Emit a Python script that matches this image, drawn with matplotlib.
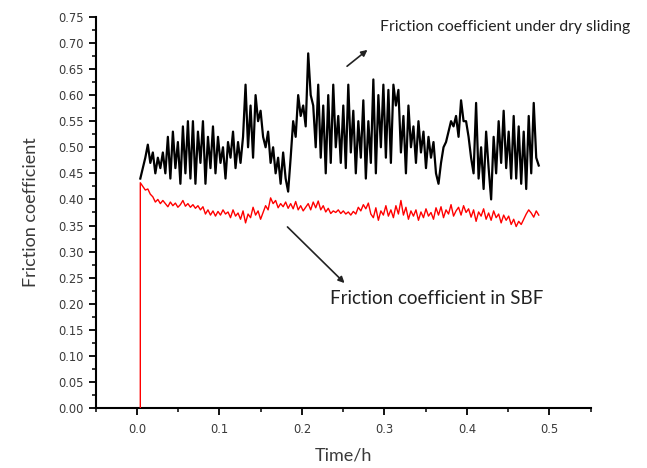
import numpy as np
import matplotlib
matplotlib.use("Agg")
import matplotlib.pyplot as plt
from matplotlib.ticker import MultipleLocator, FormatStrFormatter

# sample times (h), same grid for both traces
t_start, t_end, n_pts = 0.004, 0.487, 160

# friction coefficient under dry sliding (black)
dry = [
    0.44, 0.46, 0.48, 0.505, 0.47, 0.49, 0.45, 0.48, 0.46, 0.49,
    0.45, 0.52, 0.44, 0.53, 0.46, 0.51, 0.43, 0.54, 0.45, 0.55,
    0.44, 0.55, 0.43, 0.53, 0.47, 0.55, 0.43, 0.52, 0.46, 0.54,
    0.45, 0.52, 0.47, 0.50, 0.44, 0.51, 0.48, 0.53, 0.46, 0.51,
    0.47, 0.52, 0.62, 0.50, 0.58, 0.48, 0.60, 0.55, 0.57, 0.52,
    0.50, 0.53, 0.47, 0.50, 0.45, 0.48, 0.43, 0.49, 0.44, 0.415,
    0.48, 0.55, 0.52, 0.60, 0.56, 0.58, 0.54, 0.68, 0.60, 0.58,
    0.50, 0.62, 0.48, 0.58, 0.45, 0.60, 0.47, 0.62, 0.50, 0.56,
    0.47, 0.58, 0.46, 0.62, 0.49, 0.57, 0.45, 0.55, 0.48, 0.59,
    0.44, 0.55, 0.47, 0.63, 0.45, 0.60, 0.50, 0.62, 0.48, 0.61,
    0.47, 0.62, 0.58, 0.61, 0.49, 0.56, 0.45, 0.58, 0.50, 0.54,
    0.47, 0.55, 0.49, 0.53, 0.46, 0.52, 0.48, 0.51, 0.45, 0.43,
    0.47, 0.50, 0.51, 0.53, 0.55, 0.54, 0.56, 0.52, 0.59, 0.55,
    0.55, 0.52, 0.48, 0.45, 0.585, 0.44, 0.50, 0.42, 0.53, 0.46,
    0.40, 0.52, 0.45, 0.55, 0.47, 0.57, 0.46, 0.53, 0.44, 0.56,
    0.44, 0.54, 0.43, 0.53, 0.42, 0.56, 0.45, 0.585, 0.48, 0.465,
]

# friction coefficient in SBF (red), first value is the jump from zero
sbf_first = 0.0
sbf = [
    0.432, 0.425, 0.418, 0.420, 0.410, 0.405, 0.395, 0.400, 0.392, 0.398,
    0.392, 0.386, 0.395, 0.388, 0.393, 0.385, 0.390, 0.398, 0.387, 0.392,
    0.385, 0.390, 0.383, 0.388, 0.380, 0.386, 0.372, 0.380, 0.370, 0.378,
    0.368, 0.377, 0.370, 0.380, 0.372, 0.376, 0.365, 0.380, 0.368, 0.374,
    0.362, 0.378, 0.355, 0.372, 0.365, 0.385, 0.370, 0.378, 0.362, 0.375,
    0.388, 0.380, 0.403, 0.392, 0.398, 0.384, 0.392, 0.386, 0.395, 0.383,
    0.392, 0.382, 0.396, 0.380, 0.388, 0.378, 0.385, 0.392, 0.380, 0.395,
    0.384, 0.397, 0.380, 0.388, 0.376, 0.383, 0.373, 0.378, 0.375, 0.380,
    0.373, 0.378, 0.372, 0.376, 0.370, 0.377, 0.372, 0.385, 0.378, 0.390,
    0.382, 0.393, 0.372, 0.365, 0.384, 0.360, 0.378, 0.370, 0.388, 0.368,
    0.380, 0.365, 0.388, 0.372, 0.398, 0.370, 0.385, 0.362, 0.378, 0.368,
    0.380, 0.360, 0.376, 0.365, 0.382, 0.368, 0.375, 0.362, 0.384, 0.370,
    0.386, 0.365, 0.380, 0.372, 0.390, 0.368, 0.378, 0.385, 0.370, 0.388,
    0.375, 0.382, 0.366, 0.380, 0.358, 0.376, 0.368, 0.382, 0.362, 0.374,
    0.360, 0.378, 0.365, 0.372, 0.355, 0.370, 0.360, 0.368, 0.352, 0.362,
    0.348, 0.358, 0.352, 0.362, 0.372, 0.380, 0.374, 0.366, 0.378, 0.370,
]

t = np.linspace(t_start, t_end, n_pts)
t_sbf = np.concatenate([[t_start], t])
y_sbf = np.concatenate([[sbf_first], sbf])

label_font = ["Lato", "DejaVu Sans"]
tick_font = ["DejaVu Sans"]
grey = "#3a3a3a"

fig = plt.figure(figsize=(6.47, 4.68), dpi=100)
ax = fig.add_axes([0.148, 0.128, 0.765, 0.836])

ax.plot(t, dry, color="black", lw=1.6, zorder=3)
ax.plot(t_sbf, y_sbf, color="red", lw=1.0, zorder=3)

ax.set_xlim(-0.05, 0.55)
ax.set_ylim(0, 0.75)
ax.xaxis.set_major_locator(MultipleLocator(0.1))
ax.xaxis.set_minor_locator(MultipleLocator(0.05))
ax.yaxis.set_major_locator(MultipleLocator(0.05))
ax.yaxis.set_minor_locator(MultipleLocator(0.025))
ax.xaxis.set_major_formatter(FormatStrFormatter("%.1f"))
ax.yaxis.set_major_formatter(FormatStrFormatter("%.2f"))

for s in ("top", "right"):
    ax.spines[s].set_visible(False)
for s in ("left", "bottom"):
    ax.spines[s].set_linewidth(1.5)
ax.tick_params(which="major", direction="out", length=5, width=1.3,
               labelsize=8.3, colors="black", labelcolor=grey)
ax.tick_params(which="minor", direction="out", length=3, width=1.1)
ax.tick_params(axis="x", which="major", pad=6)
for lab in ax.get_xticklabels() + ax.get_yticklabels():
    lab.set_family(tick_font)

ax.set_xlabel("Time/h", family=label_font, fontsize=13, color=grey, labelpad=8)
ax.set_ylabel("Friction coefficient", family=label_font, fontsize=13, color=grey, labelpad=14)

ax.text(0.294, 0.731, "Friction coefficient under dry sliding", family=label_font,
        fontsize=11.3, color="#222222", va="center", ha="left", clip_on=False)
ax.annotate("", xy=(0.282, 0.690), xytext=(0.252, 0.652),
            arrowprops=dict(arrowstyle="-|>", color="#222222", lw=1.2, mutation_scale=9))
ax.annotate("", xy=(0.254, 0.236), xytext=(0.180, 0.351),
            arrowprops=dict(arrowstyle="-|>", color="#222222", lw=1.2, mutation_scale=9))
ax.text(0.234, 0.211, "Friction coefficient in SBF", family=label_font,
        fontsize=13.5, color="#222222", va="center", ha="left", clip_on=False)

fig.savefig("out.png", dpi=100)
